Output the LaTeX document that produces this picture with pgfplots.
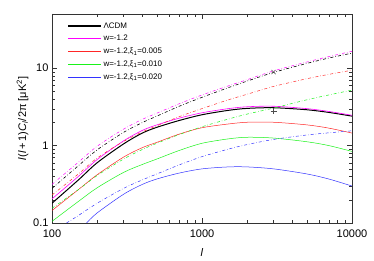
\documentclass[border=0pt]{standalone}
\usepackage{fontspec}
\setmainfont{Liberation Sans}
\usepackage{pgfplots}
\pgfplotsset{compat=1.18}
\usetikzlibrary{calc}
\definecolor{cmag}{rgb}{1,0,1}
\definecolor{cred}{rgb}{1,0.15,0.15}
\definecolor{cgreen}{rgb}{0.1,0.95,0.1}
\definecolor{cblue}{rgb}{0.2,0.2,1}
\tikzset{sm/.style={smooth, tension=0.5}}
\begin{document}
\begin{tikzpicture}
\begin{axis}[
  scale only axis, width=300pt, height=209pt,
  xmode=log, ymode=log,
  xmin=100, xmax=10000, ymin=0.1, ymax=50,
  xtick={100,1000,10000}, xticklabels={100,1000,10000},
  ytick={0.1,1,10}, yticklabels={0.1,1,10},
  tick align=inside,
  axis line style={black!80, line width=0.6pt},
  tick style={black!80},
  major tick length=5pt, minor tick length=3pt,
  ticklabel style={font=\fontsize{11}{13}\selectfont},
  xticklabel style={yshift=-3.5pt},
  /pgf/number format/assume math mode=true,
  xlabel={\textit{l}}, ylabel={\textit{l}(\textit{l}\,+\,1)\textit{C}\textsubscript{\textit{l}}/2π [μK\textsuperscript{2}]},
  label style={font=\fontsize{11}{13}\selectfont},
  xlabel style={at={(0.5,0)}, anchor=center, yshift=-30pt},
  ylabel style={yshift=-2pt},
  legend style={at={(0.05,0.97)}, anchor=north west, draw=none, fill=none,
    font=\fontsize{8}{9.5}\selectfont, row sep=1.6pt, inner sep=0pt},
  legend cell align=left,
  legend image code/.code={\draw[#1] (0cm,0cm) -- (1.15cm,0cm);},
]
% legend
\addlegendimage{black, line width=1.6pt}
\addlegendentry{ΛCDM}
\addlegendimage{cmag, line width=1.5pt}
\addlegendentry{w=-1.2}
\addlegendimage{cred, line width=1.5pt}
\addlegendentry{w=-1.2,ξ\textsubscript{1}=0.005}
\addlegendimage{cgreen, line width=1.5pt}
\addlegendentry{w=-1.2,ξ\textsubscript{1}=0.010}
\addlegendimage{cblue, line width=1.5pt}
\addlegendentry{w=-1.2,ξ\textsubscript{1}=0.020}
% solid curves
\addplot[forget plot, sm, black, line width=1pt] coordinates {(100,0.18)(150,0.36)(200,0.6)(300,1.05)(400,1.45)(500,1.72)(700,2.1)(1000,2.5)(1500,2.85)(2000,3.02)(3000,3.08)(5000,2.9)(7000,2.68)(10000,2.4)};
\addplot[forget plot, sm, cmag, line width=0.6pt] coordinates {(100,0.205)(150,0.40)(200,0.66)(300,1.15)(400,1.57)(500,1.85)(700,2.25)(1000,2.65)(1500,3.0)(2000,3.17)(3000,3.22)(5000,3.0)(7000,2.76)(10000,2.46)};
\addplot[forget plot, sm, cred, line width=0.5pt] coordinates {(100,0.145)(150,0.27)(200,0.42)(300,0.71)(400,0.94)(500,1.1)(700,1.4)(1000,1.7)(1500,1.9)(2000,2.0)(3000,2.0)(5000,1.85)(7000,1.68)(10000,1.45)};
\addplot[forget plot, sm, cgreen, line width=0.5pt] coordinates {(100,0.105)(150,0.19)(200,0.285)(300,0.45)(400,0.57)(500,0.67)(700,0.86)(1000,1.07)(1500,1.22)(2000,1.28)(3000,1.25)(5000,1.12)(7000,1.0)(10000,0.84)};
\addplot[forget plot, sm, cblue, line width=0.5pt] coordinates {(170,0.1)(200,0.135)(300,0.235)(400,0.315)(500,0.37)(700,0.44)(1000,0.5)(1500,0.53)(2000,0.53)(3000,0.5)(5000,0.43)(7000,0.37)(10000,0.3)};
% dash-dot curves
\addplot[forget plot, sm, cmag, line width=0.5pt, dash dot] coordinates {(100,0.315)(150,0.61)(200,0.98)(300,1.63)(400,2.18)(500,2.62)(700,3.45)(1000,4.5)(1500,5.9)(2000,7.1)(3000,9.2)(5000,12.0)(7000,14.1)(10000,16.5)};
\addplot[forget plot, sm, black, line width=0.6pt, dash dot] coordinates {(100,0.28)(150,0.55)(200,0.88)(300,1.48)(400,1.98)(500,2.4)(700,3.2)(1000,4.2)(1500,5.6)(2000,6.8)(3000,8.8)(5000,11.5)(7000,13.5)(10000,15.6)};
\addplot[forget plot, sm, cred, line width=0.5pt, dash dot] coordinates {(100,0.23)(150,0.43)(200,0.69)(300,1.13)(400,1.5)(500,1.8)(700,2.35)(1000,3.0)(1500,3.9)(2000,4.6)(3000,5.8)(5000,7.3)(7000,8.3)(10000,9.4)};
\addplot[forget plot, sm, cgreen, line width=0.5pt, dash dot] coordinates {(100,0.155)(150,0.27)(200,0.41)(300,0.67)(400,0.89)(500,1.07)(700,1.38)(1000,1.75)(1500,2.2)(2000,2.55)(3000,3.05)(5000,3.9)(7000,4.5)(10000,5.2)};
\addplot[forget plot, sm, cblue, line width=0.5pt, dash dot] coordinates {(125,0.1)(150,0.125)(200,0.18)(300,0.28)(400,0.36)(500,0.43)(700,0.56)(1000,0.72)(1500,0.9)(2000,1.03)(3000,1.2)(5000,1.37)(7000,1.46)(10000,1.55)};
% markers
\addplot[forget plot, only marks, mark=x, mark size=3pt, black!70] coordinates {(3000,8.9)};
\addplot[forget plot, only marks, mark=+, mark size=3pt, black!70] coordinates {(3000,2.8)};
\end{axis}
\pgfresetboundingbox
\useasboundingbox ($(current axis.south west)+(-52pt,-38pt)$) rectangle ($(current axis.north east)+(22pt,14pt)$);
\end{tikzpicture}
\end{document}
